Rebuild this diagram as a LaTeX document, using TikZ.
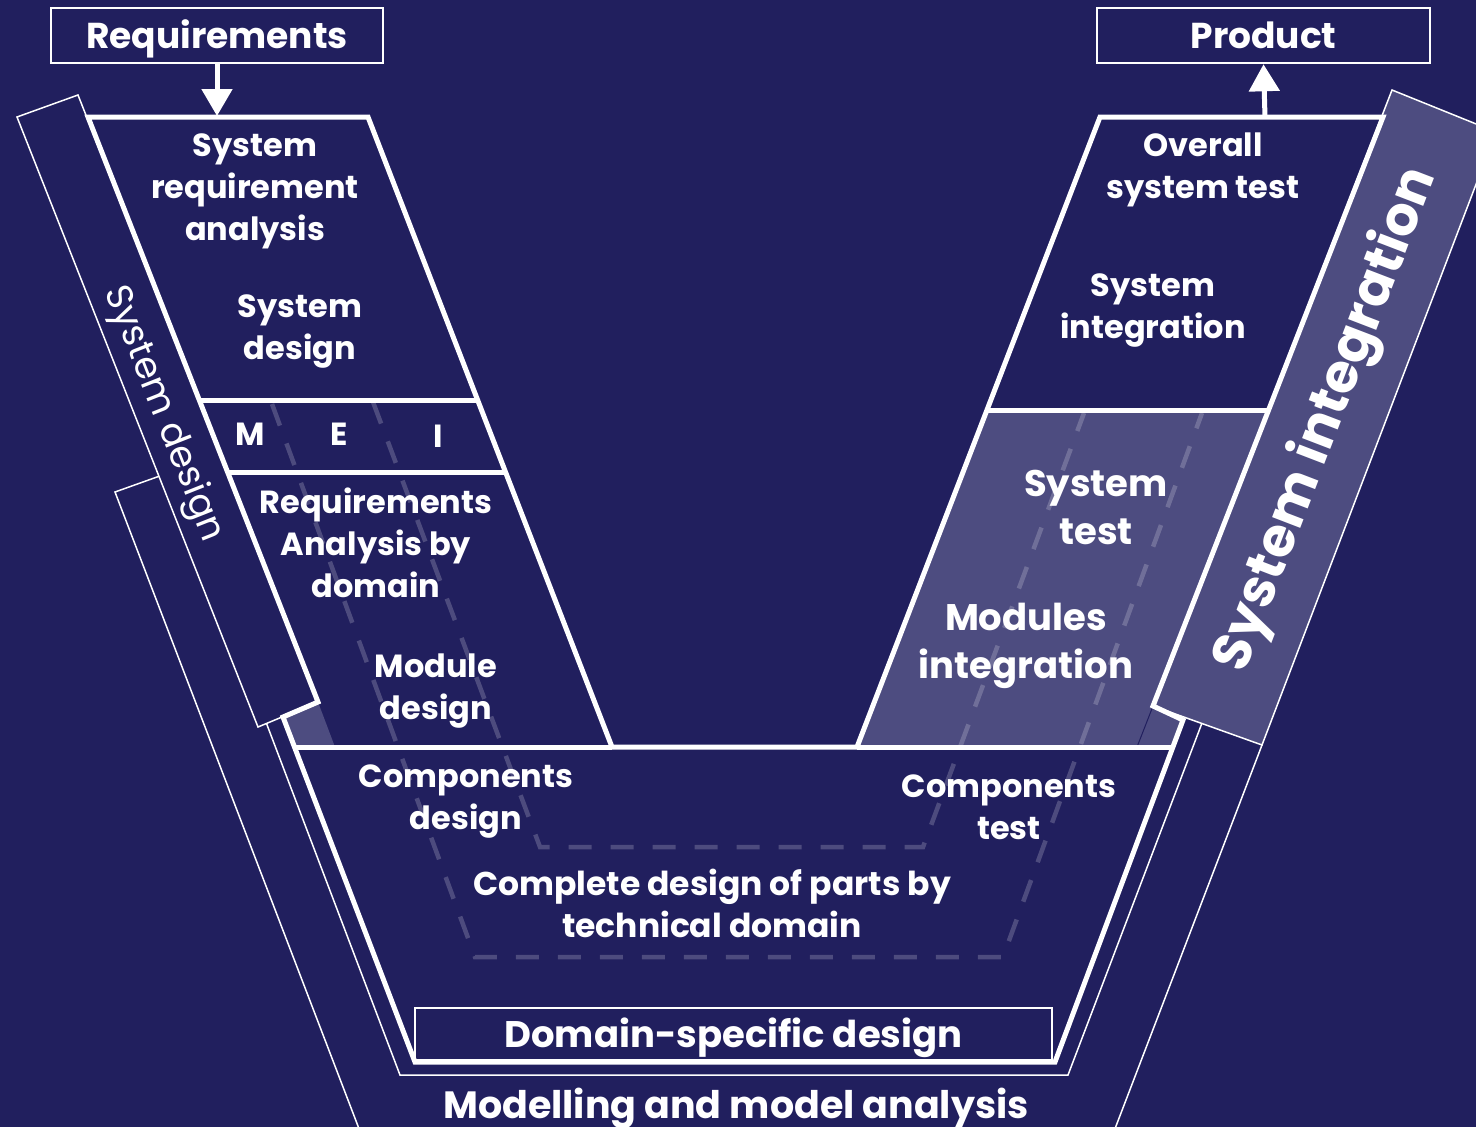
\documentclass[tikz,border=0pt]{standalone}
\usepackage{fontspec}
\setmainfont{Poppins}
\usetikzlibrary{arrows.meta}
\definecolor{navy}{HTML}{211F5E}
\definecolor{lilac}{HTML}{4D4C80}

\begin{document}
\begin{tikzpicture}[x=1pt,y=-1pt,
  heavy/.style={white, line width=5pt, line join=miter},
  hair/.style={white, line width=1.5pt},
  lane/.style={white, opacity=0.2, line width=4.5pt, dash pattern=on 23pt off 19pt},
  label/.style={text=white, font=\bfseries\fontsize{32}{42}\selectfont, align=center, inner sep=0pt},
  biglabel/.style={label, font=\bfseries\fontsize{37}{48}\selectfont},
  bandlabel/.style={text=white, inner sep=0pt},
  boxed/.style={draw=white, line width=2.5pt, text=white, inner sep=0pt, text depth=0pt},
  titlebox/.style={boxed, font=\bfseries\fontsize{36}{40}\selectfont, text height=25pt, minimum height=55pt},
  arrowline/.style={white, line width=5pt, -{Triangle[width=30pt,length=27pt]}},
]
% canvas
\fill[navy] (0,0) rectangle (1476,1127);
\useasboundingbox (0,0) rectangle (1476,1127);
\clip (0,0) rectangle (1476,1127);

% modelling frame (outer V band)
\draw[hair] (1202,723) -- (1068,1075) -- (400,1075) -- (171,472) -- (115,492)
  -- (371,1160) -- (1103,1160) -- (1262,745);

% light areas of the arms
\fill[lilac] (987,410) -- (1269,410) -- (1153,706) -- (1183,720) -- (1173,747) -- (857,747) -- cycle;
\fill[lilac] (283,717) -- (318,702) -- (335,747) -- (295,747) -- cycle;

% side bands
\filldraw[fill=navy, draw=white, line width=1.5pt] (17,117) -- (78,95) -- (318,702) -- (258,727) -- cycle;
\filldraw[fill=lilac, draw=white, line width=1.5pt] (1392,90) -- (1496,132) -- (1262,745) -- (1153,706) -- cycle;
\draw[navy, line width=1pt] (1137,747) -- (1162,683);

% dashed lanes
\draw[lane] (272,404) -- (475,957) -- (1003,957) -- (1202,413);
\draw[lane] (373,402) -- (540,847) -- (923,847) -- (1084,413);

% main V outline
\draw[heavy] (88,117) -- (368,117) -- (612,747) -- (857,747) -- (1100,117) -- (1383,117)
  -- (1153,706) -- (1183,720) -- (1055,1062) -- (415,1062) -- (283,717) -- (318,702) -- cycle;
\draw[heavy] (198,400) -- (478,400);
\draw[heavy] (226,472) -- (506,472);
\draw[heavy] (294,747) -- (612,747);
\draw[heavy] (857,747) -- (1173,747);
\draw[heavy] (987,410) -- (1269,410);

% input and output
\node[titlebox, minimum width=332pt] (req) at (217,35.5) {Requirements};
\node[titlebox, minimum width=333pt] (prod) at (1263.5,35.5) {Product};
\coordinate (reqin) at (217,116);
\coordinate (prodout) at (1265,117);
\draw[arrowline] (req.south) -- (reqin);
\draw[arrowline] (prodout) -- (prod.south);

% domain-specific box
\node[boxed, minimum width=637pt, minimum height=52pt, text height=26pt,
  font=\bfseries\fontsize{37}{40}\selectfont] (dsd) at (733.5,1034) {Domain-specific design};

% phase labels
\node[label] (sra) at (255,191) {System\\requirement\\analysis};
\node[label] (sd) at (300,332) {System\\design};
\node[label] (m) at (250,434) {M};
\node[label] (e) at (339,434) {E};
\node[label] (i) at (438,436) {I};
\node[label] (rad) at (376,543) {Requirements\\Analysis by\\domain};
\node[label] (md) at (436,691) {Module\\design};
\node[label] (cd) at (466,802) {Components\\design};
\node[label] (ost) at (1203,170) {Overall\\system test};
\node[label] (si) at (1153,311) {System\\integration};
\node[biglabel] (st) at (1096,507) {System\\test};
\node[biglabel] (mi) at (1026,646) {Modules\\integration};
\node[label] (ct) at (1009,807) {Components\\test};
\node[label, font=\bfseries\fontsize{33}{42}\selectfont] (cdp) at (712,903) {Complete design of parts by\\technical domain};
\node[biglabel, font=\bfseries\fontsize{38}{48}\selectfont] (mma) at (736,1108) {Modelling and model analysis};

% band labels
\node[bandlabel, font=\fontsize{37}{37}\selectfont, rotate=-68.45] (sdband) at (163,414) {System design};
\node[bandlabel, font=\bfseries\fontsize{54}{54}\selectfont, rotate=69] (siband) at (1327,420) {System integration};
\end{tikzpicture}
\end{document}
